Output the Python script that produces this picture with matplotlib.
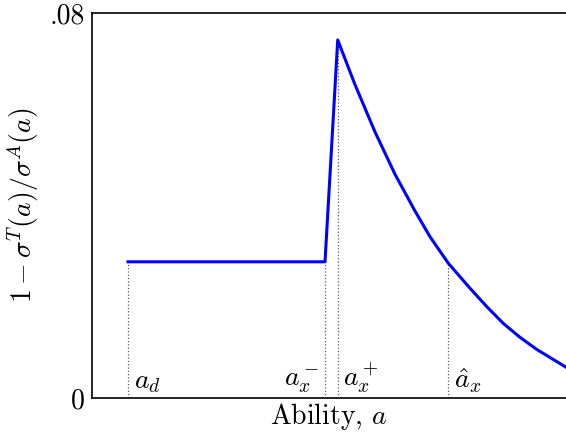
import matplotlib
matplotlib.use("Agg")
import matplotlib.pyplot as plt

plt.rcParams["font.family"] = "serif"
plt.rcParams["font.serif"] = ["cmr10", "DejaVu Serif"]
plt.rcParams["mathtext.fontset"] = "cm"
plt.rcParams["axes.unicode_minus"] = False

# thresholds on the ability axis
a_d = 0.076
a_x_minus = 0.4916
a_x_plus = 0.5184
a_hat_x = 0.7517

flat_level = 0.0283
peak_level = 0.0744
hat_level = 0.0280

# curve
ability = [a_d, a_x_minus, a_x_plus, 0.5549, 0.5970, 0.6392, 0.6800,
           0.7131, a_hat_x, 0.7975, 0.8327, 0.8677, 0.9030, 0.9382,
           0.9732, 1.0]
gap = [flat_level, flat_level, peak_level, 0.0651, 0.0553, 0.0465, 0.0391,
       0.0335, hat_level, 0.0228, 0.0190, 0.0155, 0.0126, 0.0101,
       0.0080, 0.0064]

marks = [a_d, a_x_minus, a_x_plus, a_hat_x]
mark_tops = [flat_level, flat_level, peak_level, hat_level]
mark_labels = [r"$a_d$", r"$a_x^-$", r"$a_x^+$", r"$\hat{a}_x$"]
mark_side = ["right", "left", "right", "right"]

fig = plt.figure(figsize=(5.66, 4.36), dpi=100)
ax = fig.add_axes([92 / 566, 38 / 436, 474 / 566, 385 / 436])

for x, top, lab, side in zip(marks, mark_tops, mark_labels, mark_side):
    ax.plot([x, x], [0, top], linestyle=":", color="0.35", linewidth=0.9)
    dx = 4 if side == "right" else -4
    ha = "left" if side == "right" else "right"
    ax.annotate(lab, xy=(x, 0), xytext=(dx, 2), textcoords="offset points",
                ha=ha, va="bottom", fontsize=20)

ax.plot(ability, gap, color="#0000ff", linewidth=2.2, solid_joinstyle="round")

ax.set_xlim(0, 1.0)
ax.set_ylim(0, 0.08)
ax.set_xticks([])
ax.set_yticks([0, 0.08])
ax.set_yticklabels(["0", ".08"])
ax.tick_params(axis="y", length=0, pad=5, labelsize=20)
ax.spines["right"].set_visible(False)
for s in ("left", "top", "bottom"):
    ax.spines[s].set_linewidth(1.2)

ax.set_xlabel(r"Ability, $a$", fontsize=20, labelpad=2)
ax.set_ylabel(r"$1-\sigma^T(a)/\sigma^A(a)$", fontsize=20, labelpad=6)

fig.savefig("out.png", dpi=100)
